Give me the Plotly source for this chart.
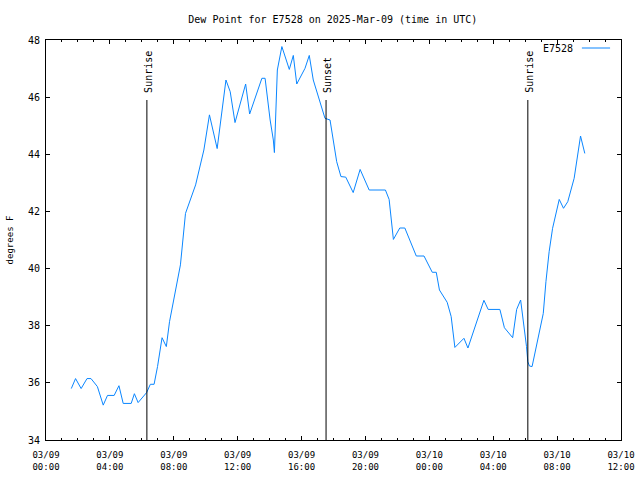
import plotly.graph_objects as go

# ---- data ----
times = [
    "2025-03-09 01:35", "2025-03-09 01:51", "2025-03-09 02:12", "2025-03-09 02:34", "2025-03-09 02:49",
    "2025-03-09 03:13", "2025-03-09 03:35", "2025-03-09 03:51", "2025-03-09 04:16", "2025-03-09 04:34",
    "2025-03-09 04:50", "2025-03-09 05:20", "2025-03-09 05:32", "2025-03-09 05:46", "2025-03-09 06:18",
    "2025-03-09 06:32", "2025-03-09 06:46", "2025-03-09 06:59", "2025-03-09 07:16", "2025-03-09 07:32",
    "2025-03-09 07:44", "2025-03-09 08:25", "2025-03-09 08:44", "2025-03-09 09:22", "2025-03-09 09:53",
    "2025-03-09 10:14", "2025-03-09 10:43", "2025-03-09 11:16", "2025-03-09 11:32", "2025-03-09 11:50",
    "2025-03-09 12:30", "2025-03-09 12:45", "2025-03-09 13:31", "2025-03-09 13:43", "2025-03-09 14:02",
    "2025-03-09 14:14", "2025-03-09 14:18", "2025-03-09 14:23", "2025-03-09 14:29", "2025-03-09 14:46",
    "2025-03-09 15:14", "2025-03-09 15:29", "2025-03-09 15:42", "2025-03-09 16:13", "2025-03-09 16:29",
    "2025-03-09 16:44", "2025-03-09 17:28", "2025-03-09 17:47", "2025-03-09 18:12", "2025-03-09 18:28",
    "2025-03-09 18:46", "2025-03-09 19:14", "2025-03-09 19:40", "2025-03-09 20:14", "2025-03-09 21:15",
    "2025-03-09 21:29", "2025-03-09 21:45", "2025-03-09 22:09", "2025-03-09 22:28", "2025-03-09 23:11",
    "2025-03-09 23:40", "2025-03-10 00:11", "2025-03-10 00:26", "2025-03-10 00:38", "2025-03-10 01:07",
    "2025-03-10 01:22", "2025-03-10 01:36", "2025-03-10 02:10", "2025-03-10 02:25", "2025-03-10 03:25",
    "2025-03-10 03:41", "2025-03-10 04:25", "2025-03-10 04:42", "2025-03-10 05:13", "2025-03-10 05:28",
    "2025-03-10 05:43", "2025-03-10 05:53", "2025-03-10 06:05", "2025-03-10 06:10", "2025-03-10 06:16",
    "2025-03-10 06:26", "2025-03-10 06:48", "2025-03-10 07:08", "2025-03-10 07:18", "2025-03-10 07:30",
    "2025-03-10 07:43", "2025-03-10 08:08", "2025-03-10 08:24", "2025-03-10 08:40", "2025-03-10 09:04",
    "2025-03-10 09:14", "2025-03-10 09:28", "2025-03-10 09:44",
]
dewpoint = [
    35.80, 36.15, 35.80, 36.15, 36.15,
    35.87, 35.22, 35.56, 35.56, 35.90,
    35.28, 35.28, 35.62, 35.31, 35.66,
    35.95, 35.95, 36.57, 37.58, 37.27,
    38.14, 40.13, 41.93, 42.93, 44.15,
    45.38, 44.20, 46.60, 46.19, 45.11,
    46.46, 45.41, 46.66, 46.66, 45.20,
    44.50, 44.06, 45.43, 46.95, 47.77,
    46.97, 47.46, 46.46, 47.01, 47.46,
    46.60, 45.26, 45.20, 43.74, 43.22,
    43.20, 42.66, 43.47, 42.75, 42.75,
    42.42, 41.02, 41.42, 41.42, 40.44,
    40.44, 39.87, 39.87, 39.25, 38.82,
    38.32, 37.24, 37.56, 37.22, 38.89,
    38.57, 38.57, 37.93, 37.58, 38.57,
    38.90, 38.20, 37.27, 36.74, 36.59,
    36.57, 37.50, 38.43, 39.54, 40.59,
    41.41, 42.42, 42.11, 42.34, 43.16,
    43.74, 44.64, 44.03,
]
series_name = "E7528"

sun_times = ["2025-03-09 06:19", "2025-03-09 17:32", "2025-03-10 06:10"]
sun_labels = ["Sunrise", "Sunset", "Sunrise"]

tick_vals = ["2025-03-09 00:00", "2025-03-09 04:00", "2025-03-09 08:00", "2025-03-09 12:00",
             "2025-03-09 16:00", "2025-03-09 20:00", "2025-03-10 00:00", "2025-03-10 04:00",
             "2025-03-10 08:00", "2025-03-10 12:00"]
tick_text = ["03/09<br>00:00", "03/09<br>04:00", "03/09<br>08:00", "03/09<br>12:00",
             "03/09<br>16:00", "03/09<br>20:00", "03/10<br>00:00", "03/10<br>04:00",
             "03/10<br>08:00", "03/10<br>12:00"]
y_ticks = [34, 36, 38, 40, 42, 44, 46, 48]

FONT = "DejaVu Sans Mono"
LINE_COLOR = "#0a86ff"

fig = go.Figure()
fig.add_trace(go.Scatter(x=times, y=dewpoint, mode="lines", name=series_name,
                         line=dict(color=LINE_COLOR, width=1), showlegend=False))

sun_line_top = 45.9
for t, lab in zip(sun_times, sun_labels):
    fig.add_shape(type="line", xref="x", yref="y", x0=t, x1=t, y0=34, y1=sun_line_top,
                  line=dict(color="black", width=1))
    fig.add_annotation(x=t, y=sun_line_top, xref="x", yref="y", text=lab, textangle=-90,
                       showarrow=False, xanchor="center", yanchor="bottom", yshift=5, xshift=1,
                       font=dict(family=FONT, size=10, color="black"))

# gnuplot-style key (text then line sample)
fig.add_annotation(x=0.92, y=47.72, xref="paper", yref="y", text=series_name, showarrow=False,
                   xanchor="right", yanchor="middle", font=dict(family=FONT, size=10, color="black"))
fig.add_shape(type="line", xref="paper", yref="y", x0=0.932, x1=0.981, y0=47.72, y1=47.72,
              line=dict(color=LINE_COLOR, width=1))

fig.update_layout(
    width=640, height=480,
    margin=dict(l=46, r=19, t=40, b=40, autoexpand=False),
    paper_bgcolor="white", plot_bgcolor="white",
    font=dict(family=FONT, size=9, color="black"),
    title=dict(text="Dew Point for E7528 on 2025-Mar-09 (time in UTC)", x=0.52, xanchor="center",
               y=0.96, yanchor="middle", font=dict(family=FONT, size=10, color="black")),
    xaxis=dict(type="date", range=["2025-03-09 00:00", "2025-03-10 12:00"], automargin=False,
               tickvals=tick_vals, ticktext=tick_text, ticks="inside", ticklen=4,
               tickcolor="black", showline=True, linecolor="black", linewidth=1, mirror="ticks",
               showgrid=False, zeroline=False, ticklabelstandoff=6,
               tickfont=dict(family=FONT, size=9),
               minor=dict(dtick=3600000, ticks="inside", ticklen=2, tickcolor="black", showgrid=False)),
    yaxis=dict(range=[34, 48], tickvals=y_ticks, ticks="inside", ticklen=4, tickcolor="black",
               showline=True, linecolor="black", linewidth=1, mirror="ticks", automargin=False,
               showgrid=False, zeroline=False, ticklabelstandoff=3,
               tickfont=dict(family=FONT, size=10),
               title=dict(text="degrees F", standoff=12, font=dict(family=FONT, size=9))),
)

fig.write_html("out.html")
